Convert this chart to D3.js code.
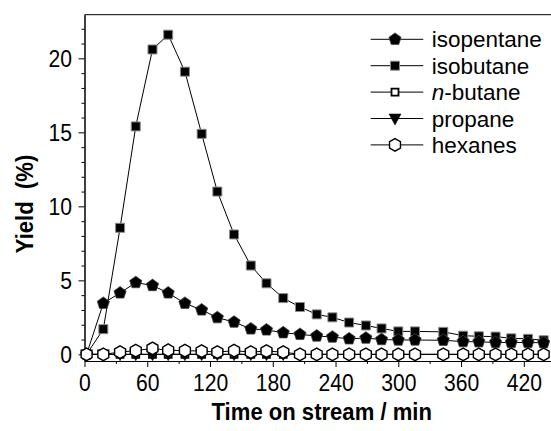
<!DOCTYPE html>
<html>
<head>
<meta charset="utf-8">
<script src="https://cdn.jsdelivr.net/npm/d3@7/dist/d3.min.js"></script>
<style>
  html, body { margin: 0; padding: 0; background: #fff; }
  svg { display: block; font-family: "Liberation Sans", Arial, Helvetica, sans-serif; }
</style>
</head>
<body>
<svg id="chart" width="551" height="431"></svg>
<script>
// ---- data (time on stream, min) ----
const times = [2, 18, 34, 49, 65, 80, 96, 112, 127, 143, 159, 174, 190, 206, 222, 237, 253, 269, 284, 300, 316, 343, 362, 377, 393, 408, 424, 439];
const isopentane = [0, 3.45, 4.15, 4.85, 4.65, 4.15, 3.45, 3.0, 2.48, 2.18, 1.72, 1.65, 1.46, 1.35, 1.24, 1.17, 1.05, 1.1, 1.0, 0.97, 0.97, 0.95, 0.86, 0.85, 0.8, 0.8, 0.8, 0.78];
const isobutane = [0, 1.7, 8.55, 15.4, 20.6, 21.6, 19.1, 14.9, 11.0, 8.1, 6.0, 4.8, 3.8, 3.2, 2.7, 2.5, 2.15, 1.95, 1.75, 1.55, 1.55, 1.52, 1.26, 1.22, 1.2, 1.08, 1.05, 0.95];
const nbutane = [0, 0, 0, 0, 0, 0, 0, 0, 0, 0, 0, 0, 0, 0, 0, 0, 0, 0, 0, 0, 0, 0, 0, 0, 0, 0, 0, 0];
const propane = [0, 0, 0, 0, 0, 0, 0, 0, 0, 0, 0, 0, 0];
const hexanes = [0, 0, 0.15, 0.25, 0.4, 0.28, 0.25, 0.22, 0.15, 0.25, 0.15, 0.22, 0.15, 0, 0, 0, 0, 0, 0, 0, 0, 0, 0, 0, 0, 0, 0, 0];
const xTicks = [0, 60, 120, 180, 240, 300, 360, 420];
const xMinor = [30, 90, 150, 210, 270, 330, 390];
const yTicks = [0, 5, 10, 15, 20];
const yMinor = [1, 2, 3, 4, 6, 7, 8, 9, 11, 12, 13, 14, 16, 17, 18, 19, 21, 22];
const legendLabels = ["isopentane", "isobutane", "n-butane", "propane", "hexanes"];

const svg = d3.select("#chart");
const x = d3.scaleLinear().domain([0, 446]).range([84.5, 551]);
const y = d3.scaleLinear().domain([-0.45, 22.95]).range([361, 14.7]);
const SX = 0.92;

// shape paths
function polygon(n, R, rot) {
  const pts = d3.range(n).map(k => {
    const a = (rot + k * 360 / n) * Math.PI / 180;
    return [R * Math.cos(a), R * Math.sin(a)];
  });
  return "M" + pts.map(p => p.join(",")).join("L") + "Z";
}
const shapes = {
  pentagon: polygon(5, 6.4, -90),
  hexagon: polygon(6, 6.3, -90),
  square: "M-4.5,-4.5L4.5,-4.5L4.5,4.5L-4.5,4.5Z",
  osquare: "M-3.5,-3.5L3.5,-3.5L3.5,3.5L-3.5,3.5Z",
  tri: "M-6,-4.5L6,-4.5L0,6.5Z"
};
const styles = {
  isobutane: { shape: "square", fill: "#000", stroke: "#8a8a8a", sw: 1 },
  isopentane: { shape: "pentagon", fill: "#000", stroke: "#444", sw: 0.8 },
  nbutane: { shape: "osquare", fill: "#fff", stroke: "#000", sw: 1.8 },
  propane: { shape: "tri", fill: "#000", stroke: "#000", sw: 0.5 },
  hexanes: { shape: "hexagon", fill: "#fff", stroke: "#000", sw: 1.4 }
};

// axes
const gx = svg.append("g").attr("transform", "translate(0,361)");
gx.call(d3.axisBottom(x).tickValues(xMinor).tickSize(3).tickSizeOuter(0).tickFormat(""));
gx.append("g").call(d3.axisBottom(x).tickValues(xTicks).tickSize(6).tickSizeOuter(0).tickFormat(d3.format("d")));
gx.selectAll("text").attr("font-size", 23).attr("fill", "#000").attr("y", 30.5).attr("dy", 0)
  .attr("transform", `scale(${SX},1)`).attr("font-family", "Liberation Sans, Arial, sans-serif");
gx.selectAll("path,line").attr("stroke", "#000").attr("stroke-width", 1);

const gy = svg.append("g").attr("transform", "translate(84.5,0)");
gy.call(d3.axisLeft(y).tickValues(yMinor).tickSize(3).tickSizeOuter(0).tickFormat(""));
gy.append("g").call(d3.axisLeft(y).tickValues(yTicks).tickSize(6).tickSizeOuter(0).tickFormat(d3.format("d")));
gy.selectAll("text").attr("font-size", 23).attr("fill", "#000").attr("x", -12.5 / SX).attr("dy", "0.36em")
  .attr("transform", `scale(${SX},1)`).attr("font-family", "Liberation Sans, Arial, sans-serif");
gy.selectAll("path,line").attr("stroke", "#000").attr("stroke-width", 1);

// top frame line
svg.append("line").attr("x1", x(0)).attr("x2", x(446)).attr("y1", y(22.95)).attr("y2", y(22.95))
  .attr("stroke", "#000").attr("stroke-width", 1);

// series
const seriesList = [
  ["isobutane", isobutane],
  ["isopentane", isopentane],
  ["nbutane", nbutane],
  ["propane", propane],
  ["hexanes", hexanes]
];
const line = d3.line().x(d => x(d.t)).y(d => y(d.v));
seriesList.forEach(([name, vals]) => {
  const data = vals.map((v, i) => ({ t: times[i], v }));
  const st = styles[name];
  svg.append("path").datum(data).attr("d", line).attr("fill", "none")
    .attr("stroke", "#000").attr("stroke-width", 1);
  svg.append("g").selectAll("path").data(data).join("path")
    .attr("transform", d => `translate(${x(d.t)},${y(d.v)})`)
    .attr("d", shapes[st.shape]).attr("fill", st.fill).attr("stroke", st.stroke)
    .attr("stroke-width", st.sw);
});

// axis titles
svg.append("g").attr("transform", "translate(321.7,420)")
  .append("text").attr("transform", `scale(${SX},1)`).attr("text-anchor", "middle")
  .attr("font-size", 24).attr("font-weight", "bold").text("Time on stream / min");
svg.append("g").attr("transform", "translate(32.5,204) rotate(-90)")
  .append("text").attr("transform", `scale(${SX},1)`).attr("text-anchor", "middle")
  .attr("font-size", 24).attr("font-weight", "bold").attr("xml:space", "preserve").text("Yield  (%)");

// legend
const legKeys = ["isopentane", "isobutane", "nbutane", "propane", "hexanes"];
const lg = svg.append("g");
legKeys.forEach((k, i) => {
  const cy = 39.3 + i * 26.4;
  const st = styles[k];
  lg.append("line").attr("x1", 370.7).attr("x2", 423.3).attr("y1", cy).attr("y2", cy)
    .attr("stroke", "#000").attr("stroke-width", 1);
  lg.append("path").attr("transform", `translate(395,${cy})`).attr("d", shapes[st.shape])
    .attr("fill", st.fill).attr("stroke", st.stroke).attr("stroke-width", st.sw);
  const t = lg.append("text").attr("x", 431.7).attr("y", cy).attr("dy", "0.36em")
    .attr("font-size", 22.5).attr("fill", "#000");
  const label = legendLabels[i];
  if (label.startsWith("n-")) {
    t.append("tspan").attr("font-style", "italic").text("n");
    t.append("tspan").text(label.slice(1));
  } else {
    t.text(label);
  }
});
</script>
</body>
</html>
